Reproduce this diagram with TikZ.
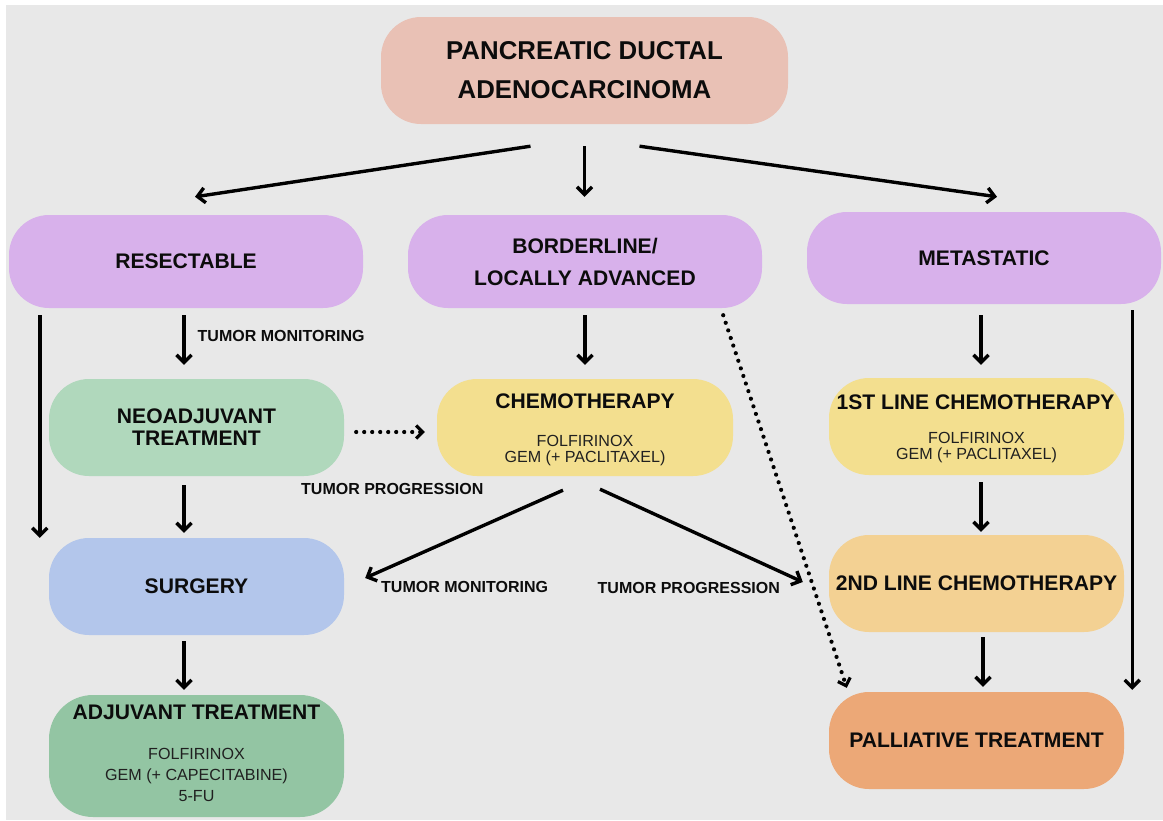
\documentclass[tikz,border=0pt]{standalone}
\usepackage{fontspec}
\setmainfont{Liberation Sans}
\usetikzlibrary{arrows.meta,calc}
\definecolor{bg}{HTML}{E8E8E8}
\definecolor{ink}{HTML}{0C0C0C}
\definecolor{drug}{HTML}{202020}
\definecolor{cpdac}{HTML}{E9C1B5}
\definecolor{cpurple}{HTML}{D8B1EB}
\definecolor{cneo}{HTML}{B0D8BC}
\definecolor{cchemo}{HTML}{F3DF8F}
\definecolor{csurg}{HTML}{B3C6EB}
\definecolor{csecond}{HTML}{F3D193}
\definecolor{cadj}{HTML}{93C5A3}
\definecolor{cpall}{HTML}{ECA877}
\newcommand\ttlfont{\fontsize{21.1}{22}\selectfont\bfseries}
\newcommand\bigttlfont{\fontsize{25.8}{39}\selectfont\bfseries}
\newcommand\drugfont{\fontsize{16.1}{17}\selectfont}
\newcommand\lblfont{\fontsize{16}{17}\selectfont\bfseries}
\begin{document}
\begin{tikzpicture}[x=1pt,y=-1pt,
  box/.style={rounded corners=40pt, inner sep=0pt, align=center, text=ink, font=\ttlfont},
  ttl/.style={anchor=base, inner sep=0pt, text=ink, font=\ttlfont},
  drugtxt/.style={anchor=base, inner sep=0pt, text=drug, font=\drugfont},
  lbl/.style={anchor=base west, inner sep=0pt, text=ink, font=\lblfont},
  arr/.style={line width=3.4pt, -{Straight Barb[length=7.5pt,width=15pt]}},
  dotarr/.style={line width=4.2pt, dash pattern=on 0pt off 8pt, line cap=round,
     -{Straight Barb[length=6.5pt,width=13pt,line width=3.2pt]}}]
\useasboundingbox (0,0) rectangle (1163,820);
\fill[white] (0,0) rectangle (1163,820);
\fill[bg] (6,5) rectangle (1163,820);

% boxes
\node[box, fill=cpdac, minimum width=407pt, minimum height=107pt, font=\bigttlfont] (pdac) at (584.5,70.5) {PANCREATIC DUCTAL\\ADENOCARCINOMA};
\node[box, fill=cpurple, minimum width=354pt, minimum height=93pt] (res) at (186,261.5) {RESECTABLE};
\node[box, fill=cpurple, minimum width=354pt, minimum height=93pt, font=\fontsize{21.1}{32}\selectfont\bfseries] (bord) at (585,261.5) {BORDERLINE/\\LOCALLY ADVANCED};
\node[box, fill=cpurple, minimum width=354pt, minimum height=92pt] (meta) at (984,258) {METASTATIC};
\node[box, fill=cneo, minimum width=295pt, minimum height=97pt, font=\fontsize{21.1}{22}\selectfont\bfseries] (neo) at (196.5,427.5) {NEOADJUVANT\\TREATMENT};
\node[box, fill=cchemo, minimum width=296pt, minimum height=97pt] (chemo) at (585,427.5) {};
\node[box, fill=cchemo, minimum width=295pt, minimum height=97pt] (first) at (976.5,426.5) {};
\node[box, fill=csurg, minimum width=295pt, minimum height=97pt] (surg) at (196.5,586.5) {SURGERY};
\node[box, fill=csecond, minimum width=295pt, minimum height=97pt] (second) at (976.5,583.5) {2ND LINE CHEMOTHERAPY};
\node[box, fill=cadj, minimum width=295pt, minimum height=122pt, rounded corners=44pt] (adj) at (196.5,756) {};
\node[box, fill=cpall, minimum width=295pt, minimum height=97pt] (pall) at (976.5,740.5) {PALLIATIVE TREATMENT};

% texts inside boxes
\node[ttl] (chemoT) at ($(chemo.north)+(0,30)$) {CHEMOTHERAPY};
\node[drugtxt] (chemoD1) at ($(chemo.north)+(0,67.7)$) {FOLFIRINOX};
\node[drugtxt] (chemoD2) at ($(chemo.north)+(0,83.7)$) {GEM (+ PACLITAXEL)};
\node[ttl] (firstT) at ($(first.north)+(-1,32)$) {1ST LINE CHEMOTHERAPY};
\node[drugtxt] (firstD1) at ($(first.north)+(0,65.3)$) {FOLFIRINOX};
\node[drugtxt] (firstD2) at ($(first.north)+(0,81.3)$) {GEM (+ PACLITAXEL)};
\node[ttl] (adjT) at ($(adj.north)+(0,24.3)$) {ADJUVANT TREATMENT};
\node[drugtxt] (adjD1) at ($(adj.north)+(0,65)$) {FOLFIRINOX};
\node[drugtxt] (adjD2) at ($(adj.north)+(0,85.7)$) {GEM (+ CAPECITABINE)};
\node[drugtxt] (adjD3) at ($(adj.north)+(0,106.7)$) {5-FU};

% labels
\node[lbl] (lmon1) at (197.5,341.7) {TUMOR MONITORING};
\node[lbl] (lprog1) at (301,494.3) {TUMOR PROGRESSION};
\node[lbl] (lmon2) at (381,592.7) {TUMOR MONITORING};
\node[lbl] (lprog2) at (597.5,593.3) {TUMOR PROGRESSION};

% connectors
\draw[arr] ($(pdac.south)+(-54,22)$) -- ($(res.north)+(9,-18)$);
\draw[arr] ($(pdac.south)+(0,22)$) -- ($(bord.north)+(-0.5,-18)$);
\draw[arr] ($(pdac.south)+(55,22)$) -- ($(meta.north)+(13,-15)$);
\draw[arr] ($(res.south west)+(31,7)$) -- ($(surg.north west)+(-9,0)$);
\draw[arr] ($(res.south)+(-2,7)$) -- ($(neo.north)+(-12.5,-14)$);
\draw[arr] ($(bord.south)+(0,7)$) -- ($(chemo.north)+(0,-14)$);
\draw[dotarr] ($(bord.south east)+(-39,7)$) -- ($(pall.north west)+(18,-4)$);
\draw[dotarr] ($(neo.east)+(12,4.5)$) -- ($(chemo.west)+(-12,4.5)$);
\draw[arr] ($(neo.south)+(-12.5,9)$) -- ($(surg.north)+(-12.5,-5)$);
\draw[arr] ($(chemo.south)+(-22,14)$) -- ($(surg.east)+(21,-8.5)$);
\draw[arr] ($(chemo.south)+(15,13)$) -- ($(second.west)+(-26,-1.5)$);
\draw[arr] ($(meta.south)+(-3,11)$) -- ($(first.north)+(4.5,-13)$);
\draw[arr] ($(meta.south east)+(-29,6)$) -- ($(pall.north east)+(8,-2)$);
\draw[arr] ($(first.south)+(4.5,7)$) -- ($(second.north)+(4.5,-3)$);
\draw[arr] ($(second.south)+(6.5,5)$) -- ($(pall.north)+(6.5,-5)$);
\draw[arr] ($(surg.south)+(-12.5,6)$) -- ($(adj.north)+(-12.5,-5)$);
\end{tikzpicture}
\end{document}
